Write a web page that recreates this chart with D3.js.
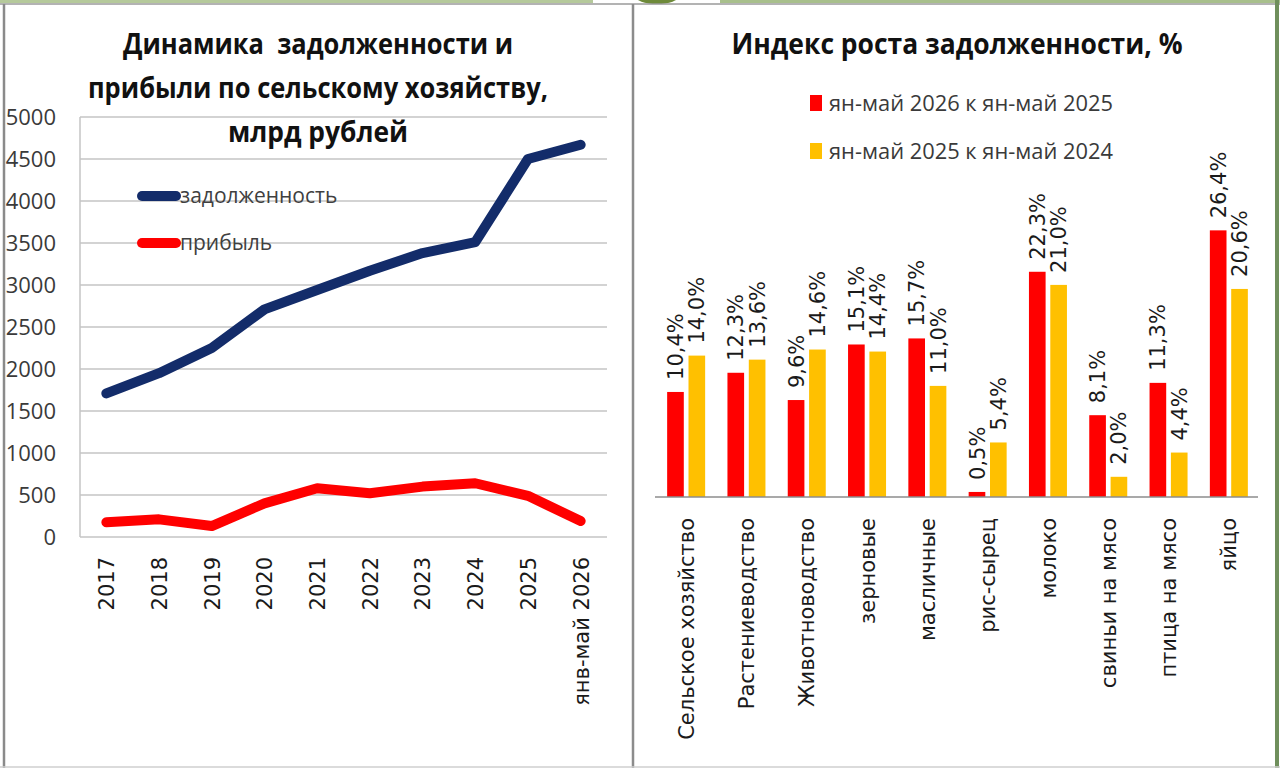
<!DOCTYPE html>
<html>
<head>
<meta charset="utf-8">
<script src="https://cdn.jsdelivr.net/npm/d3@7"></script>
<style>
  body { margin: 0; background: #fff; }
  svg { display: block; }
</style>
</head>
<body>
<div id="chart-area"></div>
<script>
// ---- data: left chart (млрд рублей)
const years = ["2017", "2018", "2019", "2020", "2021", "2022", "2023", "2024", "2025", "янв-май 2026"]
const debt = [1710, 1950, 2250, 2710, 2940, 3170, 3380, 3510, 4500, 4670]
const profit = [175, 210, 130, 400, 580, 520, 600, 640, 490, 190]
const yTicks = [0, 500, 1000, 1500, 2000, 2500, 3000, 3500, 4000, 4500, 5000]

// ---- data: right chart (% growth)
const branches = ["Сельское хозяйство", "Растениеводство", "Животноводство", "зерновые", "масличные",
  "рис-сырец", "молоко", "свиньи на мясо", "птица на мясо", "яйцо"]
const growth2026 = [10.4, 12.3, 9.6, 15.1, 15.7, 0.5, 22.3, 8.1, 11.3, 26.4]
const growth2025 = [14.0, 13.6, 14.6, 14.4, 11.0, 5.4, 21.0, 2.0, 4.4, 20.6]
const seriesNames = ["ян-май 2026 к ян-май 2025", "ян-май 2025 к ян-май 2024"]

const W = 1280, H = 768
const SANS = "'Open Sans', 'Noto Sans', sans-serif"
const DEJAVU = "'DejaVu Sans', sans-serif"
const NAVY = "#132c6a", RED = "#ff0000", GOLD = "#ffc000"

const svg = d3.select("#chart-area").append("svg")
	.attr("width", W)
	.attr("height", H)

// frame / slide decoration
svg.append("rect").attr("width", W).attr("height", H).attr("fill", "#fff")
svg.append("rect").attr("x", 0).attr("y", 0).attr("width", 593).attr("height", 3).attr("fill", "#b5c99b")
svg.append("rect").attr("x", 720).attr("y", 0).attr("width", 560).attr("height", 3).attr("fill", "#a8bf8c")
svg.append("ellipse").attr("cx", 657).attr("cy", -4).attr("rx", 22).attr("ry", 8).attr("fill", "#6e8a3a")
svg.append("line").attr("x1", 0).attr("x2", W).attr("y1", 4).attr("y2", 4)
	.attr("stroke", "#9a9a9a").attr("stroke-width", 1.5)
svg.append("line").attr("x1", 4).attr("x2", 4).attr("y1", 4).attr("y2", H)
	.attr("stroke", "#8a8a8a").attr("stroke-width", 2.5)
svg.append("line").attr("x1", 633).attr("x2", 633).attr("y1", 4).attr("y2", H)
	.attr("stroke", "#8c8c8c").attr("stroke-width", 2.5)
svg.append("line").attr("x1", 1277).attr("x2", 1277).attr("y1", 0).attr("y2", H)
	.attr("stroke", "#6f8f5c").attr("stroke-width", 4)
svg.append("line").attr("x1", 0).attr("x2", W).attr("y1", 767).attr("y2", 767)
	.attr("stroke", "#cfcfcf").attr("stroke-width", 1.5)

// ================= left chart =================
const L = { LEFT: 80, RIGHT: 607, TOP: 117, BOTTOM: 537 }

const x = d3.scalePoint().domain(years).range([L.LEFT, L.RIGHT]).padding(0.5)
const y = d3.scaleLinear().domain([0, 5000]).range([L.BOTTOM, L.TOP])

const left = svg.append("g")

// gridlines
left.append("g")
	.selectAll("line")
	.data(yTicks)
	.join("line")
	.attr("x1", L.LEFT).attr("x2", L.RIGHT)
	.attr("y1", d => y(d)).attr("y2", d => y(d))
	.attr("stroke", "#c4c4c4").attr("stroke-width", 1.5)

left.append("line")
	.attr("x1", L.LEFT).attr("x2", L.LEFT)
	.attr("y1", L.TOP).attr("y2", L.BOTTOM)
	.attr("stroke", "#c4c4c4").attr("stroke-width", 1.5)

// y axis labels
const yAxisCall = d3.axisLeft(y).tickValues(yTicks).tickFormat(d3.format("d")).tickSize(0).tickPadding(0)
const yAxis = left.append("g")
	.attr("transform", `translate(56, 0)`)
	.call(yAxisCall)
yAxis.select(".domain").remove()
yAxis.selectAll("text")
	.attr("font-family", SANS).attr("font-size", "22px").attr("fill", "#3a3a3a")

// x axis labels (rotated)
const xAxisCall = d3.axisBottom(x).tickSize(0).tickPadding(0)
const xAxis = left.append("g")
	.attr("transform", `translate(0, ${L.BOTTOM})`)
	.call(xAxisCall)
xAxis.select(".domain").remove()
xAxis.selectAll("text")
	.attr("font-family", DEJAVU).attr("font-size", "21px").attr("fill", "#1a1a1a")
	.attr("text-anchor", "end")
	.attr("dy", "0.35em")
	.attr("transform", "translate(0, 20) rotate(-90)")
	.attr("x", 0).attr("y", 0)

// lines
const line = d3.line().x((d, i) => x(years[i])).y(d => y(d))

left.append("path")
	.datum(profit)
	.attr("d", line)
	.attr("fill", "none").attr("stroke", RED)
	.attr("stroke-width", 10).attr("stroke-linejoin", "round").attr("stroke-linecap", "round")

left.append("path")
	.datum(debt)
	.attr("d", line)
	.attr("fill", "none").attr("stroke", NAVY)
	.attr("stroke-width", 10).attr("stroke-linejoin", "round").attr("stroke-linecap", "round")

// legend
const leftLegend = [
	{ name: "задолженность", color: NAVY, y: 196 },
	{ name: "прибыль", color: RED, y: 243 }
]
leftLegend.forEach(d => {
	left.append("line")
		.attr("x1", 142).attr("x2", 176).attr("y1", d.y).attr("y2", d.y)
		.attr("stroke", d.color).attr("stroke-width", 10).attr("stroke-linecap", "round")
	left.append("text")
		.attr("x", 180).attr("y", d.y)
		.attr("dy", "0.35em")
		.attr("font-family", SANS).attr("font-size", "21px").attr("fill", "#404040")
		.text(d.name)
})

// title
const leftTitle = ["Динамика  задолженности и", "прибыли по сельскому хозяйству,", "млрд рублей"]
const leftTitleWidth = [390, 460, 180]
left.append("g")
	.selectAll("text")
	.data(leftTitle)
	.join("text")
	.attr("x", 318)
	.attr("y", (d, i) => 54 + i * 44)
	.attr("text-anchor", "middle")
	.attr("font-family", SANS).attr("font-weight", "bold").attr("font-size", "29px")
	.attr("fill", "#111")
	.attr("textLength", (d, i) => leftTitleWidth[i])
	.attr("lengthAdjust", "spacingAndGlyphs")
	.style("white-space", "pre")
	.text(d => d)

// ================= right chart =================
const R = { LEFT: 655, RIGHT: 1258, BOTTOM: 497 }

const x0 = d3.scaleBand().domain(branches).range([R.LEFT, R.RIGHT])
const x1 = d3.scaleBand().domain([0, 1]).range([-18, 20]).paddingInner(0.22)
const yR = d3.scaleLinear().domain([0, 30]).range([R.BOTTOM, R.BOTTOM - 303])

const right = svg.append("g")

const rows = branches.map((b, i) => ({ branch: b, values: [growth2026[i], growth2025[i]] }))
const colors = [RED, GOLD]

const groups = right.selectAll("g.grp")
	.data(rows)
	.join("g")
	.attr("class", "grp")
	.attr("transform", d => `translate(${x0(d.branch) + x0.bandwidth() / 2}, 0)`)

groups.selectAll("rect")
	.data(d => d.values)
	.join("rect")
	.attr("x", (d, i) => x1(i))
	.attr("width", x1.bandwidth())
	.attr("y", d => yR(d))
	.attr("height", d => R.BOTTOM - yR(d))
	.attr("fill", (d, i) => colors[i])

groups.selectAll("text.val")
	.data(d => d.values)
	.join("text")
	.attr("class", "val")
	.attr("transform", (d, i) => `translate(${x1(i) + x1.bandwidth() / 2}, ${yR(d) - 12}) rotate(-90)`)
	.attr("dy", "0.36em")
	.attr("font-family", DEJAVU).attr("font-size", "21px").attr("fill", "#1a1a1a")
	.text(d => d.toFixed(1).replace(".", ",") + "%")

// axis line
right.append("line")
	.attr("x1", R.LEFT).attr("x2", R.RIGHT)
	.attr("y1", R.BOTTOM).attr("y2", R.BOTTOM)
	.attr("stroke", "#8c8c8c").attr("stroke-width", 1.5)

// category labels
right.append("g")
	.selectAll("text")
	.data(branches)
	.join("text")
	.attr("transform", d => `translate(${x0(d) + x0.bandwidth() / 2 + 1}, ${R.BOTTOM + 21}) rotate(-90)`)
	.attr("text-anchor", "end")
	.attr("dy", "0.36em")
	.attr("font-family", DEJAVU).attr("font-size", "21px").attr("fill", "#1a1a1a")
	.text(d => d)

// title
right.append("text")
	.attr("x", 957).attr("y", 54)
	.attr("text-anchor", "middle")
	.attr("font-family", SANS).attr("font-weight", "bold").attr("font-size", "29px")
	.attr("fill", "#111")
	.attr("textLength", 451).attr("lengthAdjust", "spacingAndGlyphs")
	.text("Индекс роста задолженности, %")

// legend
seriesNames.forEach((name, i) => {
	const ly = 103 + i * 48
	right.append("rect")
		.attr("x", 810).attr("y", ly - 8).attr("width", 12).attr("height", 16)
		.attr("fill", colors[i])
	right.append("text")
		.attr("x", 829).attr("y", ly)
		.attr("dy", "0.35em")
		.attr("font-family", SANS).attr("font-size", "22px").attr("fill", "#3a3a3a")
		.attr("textLength", 284).attr("lengthAdjust", "spacingAndGlyphs")
		.text(name)
})
</script>
</body>
</html>
